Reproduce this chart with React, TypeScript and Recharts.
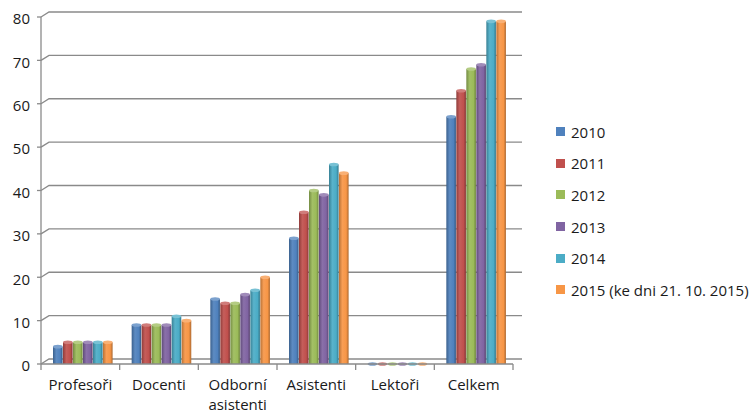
import { BarChart, Bar, XAxis, YAxis, CartesianGrid, Text } from 'recharts';

const categories = ['Profesoři', 'Docenti', 'Odborní asistenti', 'Asistenti', 'Lektoři', 'Celkem'];
const seriesNames = ['2010', '2011', '2012', '2013', '2014', '2015 (ke dni 21. 10. 2015)'];
const values2010 = [4, 9, 15, 29, 0, 57];
const values2011 = [5, 9, 14, 35, 0, 63];
const values2012 = [5, 9, 14, 40, 0, 68];
const values2013 = [5, 9, 16, 39, 0, 69];
const values2014 = [5, 11, 17, 46, 0, 79];
const values2015 = [5, 10, 20, 44, 0, 79];
const yTicks = [0, 10, 20, 30, 40, 50, 60, 70, 80];

const colors = ['#4F81BD', '#C0504D', '#9BBB59', '#8064A2', '#4BACC6', '#F79646'];
const allSeries = [values2010, values2011, values2012, values2013, values2014, values2015];

const data = categories.map((name, i) => {
  const row: Record<string, string | number> = { name };
  allSeries.forEach((s, k) => {
    row['s' + k] = s[i];
  });
  return row;
});

const FONT = '"Open Sans", sans-serif';
const AXIS = '#8a8a8a';
const W = 754;
const H = 416;
const M = { top: 17, right: 241, bottom: 22, left: 0 };
const BAND = (W - M.left - 41 - M.right) / categories.length;

function shade(hex: string, f: number) {
  const n = parseInt(hex.slice(1), 16);
  const ch = [(n >> 16) & 255, (n >> 8) & 255, n & 255].map((c) =>
    Math.round(f < 0 ? c * (1 + f) : c + (255 - c) * f)
  );
  return `rgb(${ch.join(',')})`;
}

function makeShape(i: number) {
  return (props: any) => {
    const { x, y, width, height } = props;
    const bx = x + 4;
    const w = width - 0.4;
    return (
      <g>
        <rect x={bx} y={y} width={w} height={Math.max(height, 0)} fill={`url(#bar${i})`} />
        <ellipse cx={bx + w / 2} cy={y} rx={w / 2} ry={1.8} fill={shade(colors[i], 0.25)} />
      </g>
    );
  };
}

const gridLine = (p: any) => (
  <path
    key={`g-${p.index}-${p.y1}`}
    d={`M${p.x1},${p.y1} L${p.x1 + 8},${p.y1 - 5} L${p.x2 + 9},${p.y1 - 5}`}
    stroke={AXIS}
    strokeWidth={1.3}
    fill="none"
  />
);

function XTick(props: any) {
  const { x, y, payload, index } = props;
  const left = x - BAND / 2;
  return (
    <g>
      <line x1={left} y1={y} x2={left} y2={y + 6} stroke={AXIS} strokeWidth={1.3} />
      {index === categories.length - 1 && (
        <line x1={x + BAND / 2} y1={y} x2={x + BAND / 2} y2={y + 6} stroke={AXIS} strokeWidth={1.3} />
      )}
      <Text
        x={x}
        y={y + 15}
        width={BAND - 4}
        textAnchor="middle"
        verticalAnchor="start"
        lineHeight="1.35em"
        fontSize={15}
        fontFamily={FONT}
        fill="#1a1a1a"
      >
        {payload.value}
      </Text>
    </g>
  );
}

function YTick(props: any) {
  const { x, y, payload } = props;
  return (
    <text x={x} y={y + 2} dy="0.355em" textAnchor="end" fontSize={15} fontFamily={FONT} fill="#1a1a1a">
      {payload.value}
    </text>
  );
}

export default function App() {
  return (
    <div style={{ position: 'absolute', left: 0, top: 0, width: W, height: H, background: '#fff' }}>
      <BarChart width={W} height={H} data={data} margin={M} barCategoryGap={8} barGap={0}>
        <defs>
          {colors.map((c, i) => (
            <linearGradient key={i} id={`bar${i}`} x1="0" y1="0" x2="1" y2="0">
              <stop offset="0%" stopColor={shade(c, -0.25)} />
              <stop offset="35%" stopColor={shade(c, 0.08)} />
              <stop offset="75%" stopColor={c} />
              <stop offset="100%" stopColor={shade(c, -0.3)} />
            </linearGradient>
          ))}
        </defs>
        <CartesianGrid vertical={false} horizontal={gridLine} />
        <XAxis
          dataKey="name"
          height={30}
          interval={0}
          tickSize={0}
          tickMargin={0}
          tick={<XTick />}
          axisLine={{ stroke: AXIS, strokeWidth: 1.3 }}
        />
        <YAxis
          width={41}
          domain={[0, 80]}
          ticks={yTicks}
          interval={0}
          tickSize={4}
          tickMargin={7}
          axisLine={{ stroke: AXIS, strokeWidth: 1.3 }}
          tickLine={{ stroke: AXIS, strokeWidth: 1.3 }}
          tick={<YTick />}
        />
        {seriesNames.map((n, i) => (
          <Bar key={n} dataKey={'s' + i} name={n} fill={colors[i]} shape={makeShape(i)} isAnimationActive={false} />
        ))}
      </BarChart>
      <div style={{ position: 'absolute', left: 556, top: 116, fontFamily: FONT, fontSize: 15, color: '#1a1a1a' }}>
        {seriesNames.map((n, i) => (
          <div key={n} style={{ display: 'flex', alignItems: 'center', height: 31.6, whiteSpace: 'nowrap' }}>
            <span style={{ width: 9, height: 9, background: colors[i], marginRight: 6, display: 'inline-block' }} />
            <span>{n}</span>
          </div>
        ))}
      </div>
    </div>
  );
}
